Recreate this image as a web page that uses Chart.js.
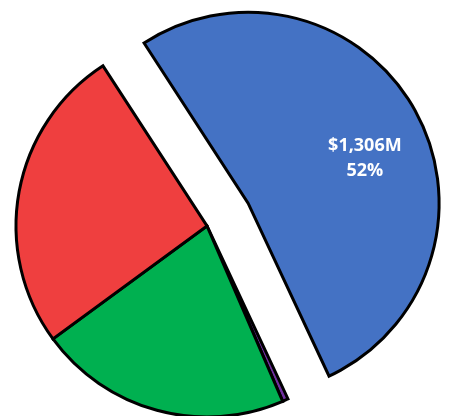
<!DOCTYPE html>
<html>
<head>
<meta charset="utf-8">
<script src="https://cdn.jsdelivr.net/npm/chart.js"></script>
<style>
html,body{margin:0;padding:0;background:#fff;}
</style>
</head>
<body>
<canvas id="myChart" width="450" height="416"></canvas>
<script>
// pie data ($M), clockwise from the big slice
const segments = ["Segment 1", "Segment 2", "Segment 3", "Segment 4"];
const values = [1306, 12, 536, 648];
const colors = ["#4472C4", "#7030A0", "#00B050", "#EF3F3F"];
const valueLabels = ["$1,306M", "", "", ""];
const pctLabels = ["52%", "", "", ""];
const explode = [47, 0, 0, 0]; // px the slice is pulled out

const R = 191;

// chart.js moves a slice by offset/4 but also grows it by that much and
// trims its angle, so put the radius and the angle back
const explodePlugin = {
  id: 'explode',
  afterDatasetUpdate(chart, args) {
    args.meta.data.forEach((arc, i) => {
      const o = explode[i];
      if (!o) return;
      arc.outerRadius = R - o;
      const d = o / (2 * Math.PI * R);
      arc.startAngle -= d;
      arc.endAngle += d;
    });
  }
};

const labelPlugin = {
  id: 'sliceLabels',
  afterDatasetsDraw(chart) {
    const ctx = chart.ctx;
    chart.getDatasetMeta(0).data.forEach((arc, i) => {
      if (!valueLabels[i]) return;
      const mid = (arc.startAngle + arc.endAngle) / 2;
      const cx = arc.x + Math.cos(mid) * explode[i];
      const cy = arc.y + Math.sin(mid) * explode[i];
      const a = mid + 0.14;
      const r = R * 0.655;
      const x = cx + Math.cos(a) * r;
      const y = cy + Math.sin(a) * r;
      ctx.save();
      ctx.fillStyle = '#fff';
      ctx.font = 'bold 18px "Open Sans"';
      ctx.textAlign = 'center';
      ctx.textBaseline = 'middle';
      ctx.fillText(valueLabels[i], x, y - 12);
      ctx.fillText(pctLabels[i], x, y + 13);
      ctx.restore();
    });
  }
};

new Chart("myChart", {
  type: "pie",
  data: {
    labels: segments,
    datasets: [{
      data: values,
      backgroundColor: colors,
      borderColor: "#000",
      borderWidth: 3,
      borderJoinStyle: "miter",
      offset: explode.map(o => o * 4),
      radius: R,
      rotation: -33
    }]
  },
  options: {
    responsive: false,
    animation: false,
    layout: { padding: { left: 0, right: 36, top: 36, bottom: 0 } },
    plugins: {
      legend: { display: false },
      tooltip: { enabled: false }
    }
  },
  plugins: [explodePlugin, labelPlugin]
});
</script>
</body>
</html>
